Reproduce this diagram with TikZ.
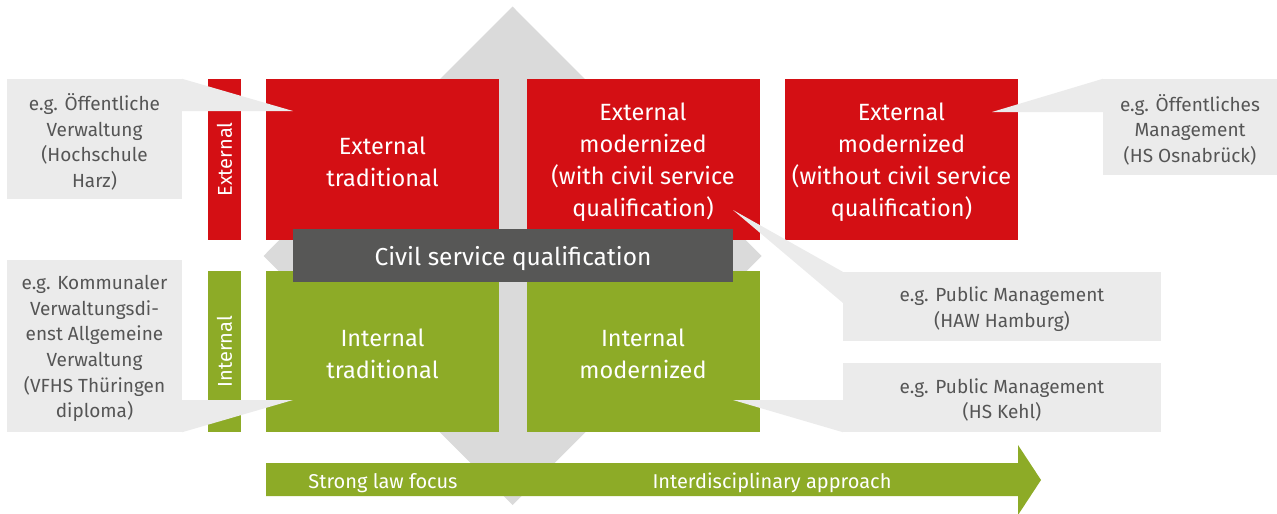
\documentclass[tikz,border=0pt]{standalone}
\usepackage{fontspec}
\usetikzlibrary{calc}
\setmainfont{Fira Sans}
\setsansfont{Fira Sans}
\definecolor{qred}{HTML}{D40F14}
\definecolor{qgreen}{HTML}{8DAB27}
\definecolor{qdark}{HTML}{575756}
\definecolor{qdiamond}{HTML}{DADADA}
\definecolor{qcallout}{HTML}{EBEBEB}
\definecolor{qtext}{HTML}{555555}
\tikzset{
  cell/.style={inner sep=0pt, minimum width=233pt, minimum height=161pt},
  redcell/.style={cell, fill=qred},
  greencell/.style={cell, fill=qgreen},
  celltext/.style={inner sep=0pt, align=center, text=white, yshift=-2.5pt,
    font=\fontsize{23.5}{31.8}\selectfont},
  sidebar/.style={inner sep=0pt, minimum width=33pt, minimum height=161pt},
  sidelabel/.style={rotate=90, text=white, font=\fontsize{20}{24}\selectfont},
  callout/.style={fill=qcallout, inner sep=0pt},
  callouttext/.style={inner sep=0pt, align=center, text=qtext, yshift=-2.5pt,
    font=\fontsize{19}{25.6}\selectfont},
  tail/.style={fill=qcallout},
  arrowlabel/.style={text=white, font=\fontsize{20}{24}\selectfont, inner sep=0pt, yshift=-2pt},
}
\begin{document}
\begin{tikzpicture}[x=1pt,y=-1pt]
\useasboundingbox (0,0) rectangle (1277,514);

% grey diamond in the background
\coordinate (dc) at (512.5,256);
\fill[qdiamond] ($(dc)+(0,-249.5)$) -- ($(dc)+(249,0)$) -- ($(dc)+(0,249)$) -- ($(dc)+(-249,0)$) -- cycle;

% side bars
\node[sidebar, fill=qred] (extbar) at (224.5,159.5) {};
\node[sidelabel] (extlabel) at (extbar.center) {External};
\node[sidebar, fill=qgreen] (intbar) at (224.5,351.5) {};
\node[sidelabel] (intlabel) at (intbar.center) {Internal};

% the five cells
\node[redcell] (et) at (382.5,159.5) {};
\node[redcell] (emw) at (643,159.5) {};
\node[redcell] (emo) at (901.5,159.5) {};
\node[greencell] (it) at (382.5,351.5) {};
\node[greencell] (im) at (643,351.5) {};
\node[celltext] (ettext) at (et.center) {External\\traditional};
\node[celltext] (emwtext) at (emw.center) {External\\modernized\\(with civil service\\qualification)};
\node[celltext] (emotext) at (emo.center) {External\\modernized\\(without civil service\\qualification)};
\node[celltext] (ittext) at (it.center) {Internal\\traditional};
\node[celltext] (imtext) at (im.center) {Internal\\modernized};

% civil service bar
\node[fill=qdark, inner sep=0pt, minimum width=440pt, minimum height=53pt] (civil) at (513,255.5) {};
\node[text=white, inner sep=0pt, yshift=-3pt, font=\fontsize{24.5}{28}\selectfont]
  (civiltext) at (civil.center) {Civil service qualification};

% bottom arrow
\coordinate (a0) at (266,463);
\coordinate (a1) at (1018,463);
\coordinate (a2) at (1018,445);
\coordinate (atip) at (1041,480);
\coordinate (a3) at (1018,515);
\coordinate (a4) at (1018,496);
\coordinate (a5) at (266,496);
\fill[qgreen] (a0) -- (a1) -- (a2) -- (atip) -- (a3) -- (a4) -- (a5) -- cycle;
\node[arrowlabel] (law) at (383,481) {Strong law focus};
\node[arrowlabel] (inter) at (772,481) {Interdisciplinary approach};

% callouts
\node[callout, minimum width=175pt, minimum height=120pt] (c1) at (94.5,139) {};
\node[callout, minimum width=175pt, minimum height=172pt] (c2) at (94.5,346) {};
\node[callout, minimum width=174pt, minimum height=96pt] (c3) at (1190,127) {};
\node[callout, minimum width=318pt, minimum height=69pt] (c4) at (1002,306.5) {};
\node[callout, minimum width=318pt, minimum height=69pt] (c5) at (1002,397.5) {};
\node[callouttext] (c1text) at ([yshift=-0.5pt]c1.center)
  {e.g. Öffentliche\\Verwaltung\\(Hochschule\\Harz)};
\node[callouttext] (c2text) at (c2.center)
  {e.g. Kommunaler\\Verwaltungsdi-\\enst Allgemeine\\Verwaltung\\(VFHS Thüringen\\diploma)};
\node[callouttext] (c3text) at (c3.center)
  {e.g. Öffentliches\\Management\\(HS Osnabrück)};
\node[callouttext] (c4text) at (c4.center)
  {e.g. Public Management\\(HAW Hamburg)};
\node[callouttext] (c5text) at (c5.center)
  {e.g. Public Management\\(HS Kehl)};

% callout tails
\coordinate (t1) at (293,111);
\coordinate (t2) at (293,400);
\coordinate (t3) at (992,112);
\coordinate (t4) at (733,210);
\coordinate (t5) at (733,400);
\fill[tail] (c1.north east) -- (t1) -- (c1.east |- t1) -- cycle;
\fill[tail] (c2.east |- t2) -- (t2) -- (c2.south east) -- cycle;
\fill[tail] (c3.north west) -- (t3) -- (c3.west |- t3) -- cycle;
\fill[tail] (c4.north west) -- (t4) -- ($(c4.north west)+(0,31)$) -- cycle;
\fill[tail] (c5.west |- t5) -- (t5) -- (c5.south west) -- cycle;
\end{tikzpicture}
\end{document}
